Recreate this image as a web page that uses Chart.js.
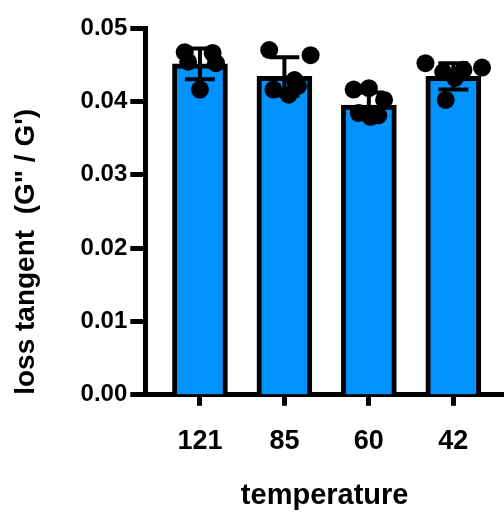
<!DOCTYPE html>
<html lang="en">
<head>
    <meta charset="UTF-8">
    <title>Loss tangent vs temperature</title>
    <style>
        body {
            margin: 0;
            padding: 0;
            background: white;
        }
        #chart {
            display: block;
        }
    </style>
</head>
<body>
<canvas id="chart" width="504" height="513"></canvas>
<script src="https://cdn.jsdelivr.net/npm/chart.js"></script>
<script>
    // values
    const categories = ['121', '85', '60', '42'];
    const meanValues = [0.0451, 0.0434, 0.0395, 0.0434];
    const sdValues = [0.0021, 0.0026, 0.0017, 0.0018];
    const pointValues = [
        [0.0467, 0.0454, 0.0466, 0.0452, 0.0416],
        [0.0470, 0.0463, 0.0416, 0.0409, 0.0429, 0.0421],
        [0.0416, 0.0418, 0.0402, 0.0384, 0.0379, 0.0381],
        [0.0452, 0.0440, 0.0443, 0.0446, 0.0402, 0.0432]
    ];
    // horizontal scatter of the dots, in category units
    const pointJitter = [
        [-0.18, -0.14, 0.15, 0.19, 0],
        [-0.18, 0.31, -0.13, 0.05, 0.12, 0.16],
        [-0.18, 0, 0.18, -0.12, 0.02, 0.11],
        [-0.33, -0.12, 0.12, 0.34, -0.09, 0.02]
    ];
    const yTicks = [0, 0.01, 0.02, 0.03, 0.04, 0.05];

    const barData = meanValues.map((v, i) => ({ x: i, y: v }));
    const dotData = [];
    pointValues.forEach((group, i) => {
        group.forEach((v, j) => dotData.push({ x: i + pointJitter[i][j], y: v }));
    });

    const errorBars = {
        id: 'errorBars',
        afterDatasetsDraw(chart) {
            const ctx = chart.ctx;
            const xs = chart.scales.x, ys = chart.scales.y;
            ctx.save();
            ctx.strokeStyle = '#000';
            ctx.lineWidth = 4;
            meanValues.forEach((m, i) => {
                const x = xs.getPixelForValue(i);
                const top = ys.getPixelForValue(m + sdValues[i]);
                const bot = ys.getPixelForValue(m - sdValues[i]);
                ctx.beginPath();
                ctx.moveTo(x, top);
                ctx.lineTo(x, bot);
                ctx.moveTo(x - 15, top);
                ctx.lineTo(x + 15, top);
                ctx.moveTo(x - 15, bot);
                ctx.lineTo(x + 15, bot);
                ctx.stroke();
            });
            ctx.restore();
        }
    };

    const fontFamily = '"Liberation Sans", Arial, sans-serif';

    new Chart(document.getElementById('chart').getContext('2d'), {
        type: 'bar',
        data: {
            datasets: [
                {
                    type: 'bar',
                    order: 2,
                    data: barData,
                    backgroundColor: '#0092ff',
                    borderColor: '#000',
                    borderWidth: 5,
                    barThickness: 55
                },
                {
                    type: 'scatter',
                    order: 1,
                    data: dotData,
                    backgroundColor: '#000',
                    borderWidth: 0,
                    pointRadius: 9
                }
            ]
        },
        options: {
            responsive: false,
            animation: false,
            layout: {
                autoPadding: false,
                padding: { top: 28, right: 0, left: 0, bottom: 0 }
            },
            plugins: {
                legend: { display: false },
                tooltip: { enabled: false }
            },
            scales: {
                x: {
                    type: 'linear',
                    offset: false,
                    min: -0.647,
                    max: 3.6,
                    afterBuildTicks: axis => {
                        axis.ticks = categories.map((c, i) => ({ value: i }));
                    },
                    ticks: {
                        callback: v => categories[v],
                        color: '#000',
                        padding: 20,
                        maxRotation: 0,
                        font: { family: fontFamily, size: 27, weight: 'bold' }
                    },
                    grid: {
                        offset: false,
                        drawOnChartArea: false,
                        tickLength: 11,
                        tickWidth: 5,
                        tickColor: '#000'
                    },
                    border: { display: true, width: 5, color: '#000' },
                    title: {
                        display: true,
                        text: 'temperature',
                        color: '#000',
                        padding: { top: 0, bottom: 0 },
                        font: { family: fontFamily, size: 29, weight: 'bold' }
                    }
                },
                y: {
                    min: 0,
                    max: 0.05,
                    afterBuildTicks: axis => {
                        axis.ticks = yTicks.map(v => ({ value: v }));
                    },
                    ticks: {
                        callback: v => v.toFixed(2),
                        color: '#000',
                        padding: 3,
                        font: { family: fontFamily, size: 24, weight: 'bold' }
                    },
                    grid: {
                        drawOnChartArea: false,
                        tickLength: 15,
                        tickWidth: 5,
                        tickColor: '#000'
                    },
                    border: { display: true, width: 5, color: '#000' },
                    title: {
                        display: true,
                        text: 'loss tangent  (G" / G\')',
                        color: '#000',
                        align: 'start',
                        padding: { top: 9, bottom: 35 },
                        font: { family: fontFamily, size: 28, weight: 'bold' }
                    }
                }
            }
        },
        plugins: [errorBars]
    });
</script>
</body>
</html>
